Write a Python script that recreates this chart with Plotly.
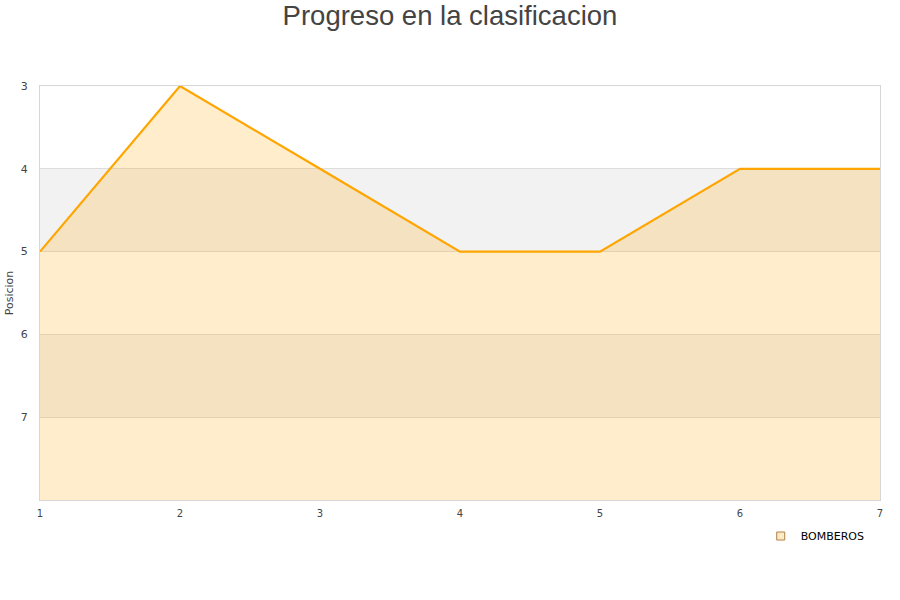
import plotly.graph_objects as go

jornadas = [1, 2, 3, 4, 5, 6, 7]
posicion = [5, 3, 4, 5, 5, 4, 4]
equipo = "BOMBEROS"
y_ticks = [3, 4, 5, 6, 7]
y_min, y_max = 3, 8
bands = [(4, 5), (6, 7)]

fig = go.Figure()

# baseline for fill (bottom of the reversed axis)
fig.add_trace(go.Scatter(x=jornadas, y=[y_max] * len(jornadas), mode="lines",
                         line=dict(width=0, color="rgba(0,0,0,0)"),
                         showlegend=False, hoverinfo="skip"))
fig.add_trace(go.Scatter(x=jornadas, y=posicion, mode="lines", fill="tonexty",
                         fillcolor="rgba(255,165,0,0.2)",
                         line=dict(color="#ffa500", width=2.2),
                         showlegend=False, name=equipo))
# legend entry
fig.add_trace(go.Scatter(x=[None], y=[None], mode="markers", name=equipo,
                         marker=dict(symbol="square", size=8, color="#feecc9",
                                     line=dict(color="#b08040", width=1))))

for lo, hi in bands:
    fig.add_shape(type="rect", xref="paper", yref="y", x0=0, x1=1, y0=lo, y1=hi,
                  fillcolor="#f2f2f2", line=dict(width=0), layer="below")

fig.update_layout(
    width=900, height=600,
    paper_bgcolor="white", plot_bgcolor="white",
    margin=dict(l=40, r=20, t=86, b=100),
    font=dict(family="DejaVu Sans", size=11, color="#444"),
    title=dict(text="Progreso en la clasificacion", x=0.5, xanchor="center",
               y=0.975, yanchor="middle", automargin=False,
               font=dict(family="Liberation Sans, Arial", size=27.5, color="#444")),
    showlegend=True,
    legend=dict(x=0.858, xanchor="left", y=-0.087, yanchor="middle",
                font=dict(family="DejaVu Sans", size=11, color="#000"),
                bgcolor="rgba(0,0,0,0)", itemwidth=30),
)
fig.update_xaxes(range=[1, 7], tickvals=jornadas, showgrid=False, zeroline=False,
                 showline=True, linecolor="#d6d6d6", mirror=True, ticks="",
                 ticklabelstandoff=4, automargin=False,
                 tickfont=dict(size=10, color="#444"))
fig.update_yaxes(range=[y_max, y_min], tickvals=y_ticks, showgrid=True,
                 gridcolor="#dddddd", zeroline=False, showline=True,
                 linecolor="#d6d6d6", mirror=True, ticks="",
                 ticklabelstandoff=9, automargin=False,
                 title=dict(text="Posicion", font=dict(size=11, color="#444"), standoff=4),
                 tickfont=dict(size=11, color="#444"))

fig.write_html("out.html", config={"displayModeBar": False},
               post_script="document.body.style.margin='0';")
